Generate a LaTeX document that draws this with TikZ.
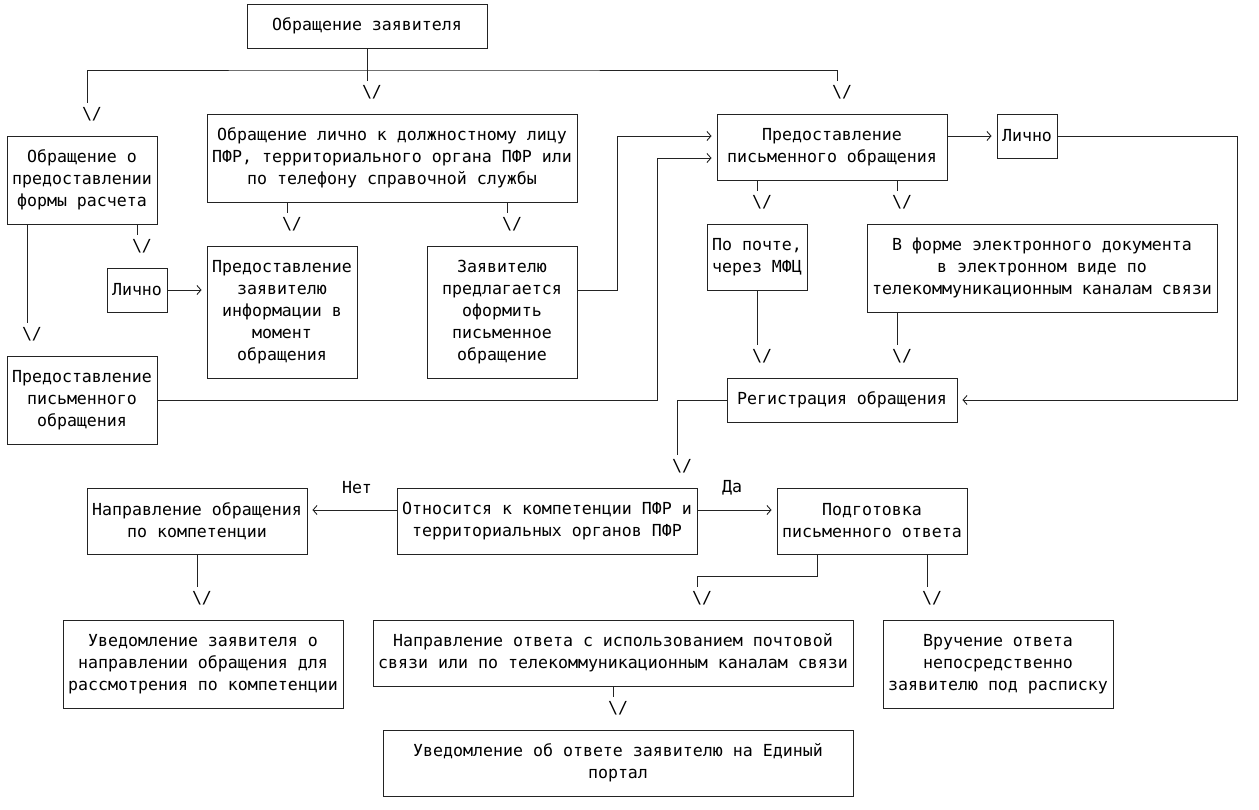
\documentclass[tikz,border=0pt]{standalone}
\usepackage{fontspec}
\setmonofont{DejaVu Sans Mono}
\usetikzlibrary{arrows.meta,positioning,calc}
\definecolor{flowline}{RGB}{35,35,35}
\newcommand{\flowfont}{\ttfamily\fontsize{16.6pt}{22pt}\selectfont}
% "\/" drawn as text, centred on its backslash
\newcommand{\downtip}{\phantom{/}\textbackslash/}

\begin{document}
\begin{tikzpicture}[x=1pt,y=-1pt,
box/.style={draw=flowline, line width=0.9pt, inner sep=0pt, align=center, font=\flowfont},
vmark/.style={inner sep=0pt, minimum height=22pt, font=\flowfont},
lbl/.style={inner sep=0pt, font=\flowfont},
link/.style={draw=flowline, line width=0.9pt},
arrow/.style={link, -{Straight Barb[length=4pt,width=9pt]}, shorten >=5pt}
]
\useasboundingbox (0,0) rectangle (1259,809);

\node[box, minimum width=240pt, minimum height=44pt] (appeal) at (367,26) {Обращение заявителя};

\node[box, minimum width=150pt, minimum height=88pt] (formreq) at (82,180)
{Обращение о\\предоставлении\\формы расчета};
\node[box, minimum width=370pt, minimum height=88pt] (personal) at (392,158)
{Обращение лично к должностному лицу\\ПФР, территориального органа ПФР или\\по телефону справочной службы};
\node[box, minimum width=230pt, minimum height=66pt] (written) at (832,147)
{Предоставление\\письменного обращения};
\node[box, minimum width=60pt, minimum height=44pt] (inpersonR) at (1027,136) {Лично};

\node[box, minimum width=60pt, minimum height=44pt] (inpersonL) at (137,290) {Лично};
\node[box, minimum width=150pt, minimum height=132pt] (info) at (282,312)
{Предоставление\\заявителю\\информации в\\момент\\обращения};
\node[box, minimum width=150pt, minimum height=132pt] (offer) at (502,312)
{Заявителю\\предлагается\\оформить\\письменное\\обращение};
\node[box, minimum width=150pt, minimum height=88pt] (writtenL) at (82,400)
{Предоставление\\письменного\\обращения};

\node[box, minimum width=100pt, minimum height=66pt] (post) at (757,257)
{По почте,\\через МФЦ};
\node[box, minimum width=350pt, minimum height=88pt] (edoc) at (1042,268)
{В форме электронного документа\\в электронном виде по\\телекоммуникационным каналам связи};
\node[box, minimum width=230pt, minimum height=44pt] (reg) at (842,400) {Регистрация обращения};

\node[box, minimum width=300pt, minimum height=66pt] (competence) at (547,521)
{Относится к компетенции ПФР и\\территориальных органов ПФР};
\node[box, minimum width=220pt, minimum height=66pt] (redirect) at (197,521)
{Направление обращения\\по компетенции};
\node[box, minimum width=190pt, minimum height=66pt] (prepare) at (872,521)
{Подготовка\\письменного ответа};
\node[lbl] (lblno) at (357,488) {Нет};
\node[lbl] (lblyes) at (732,488) {Да};

\node[box, minimum width=280pt, minimum height=88pt] (notifyR) at (203,664)
{Уведомление заявителя о\\направлении обращения для\\рассмотрения по компетенции};
\node[box, minimum width=480pt, minimum height=66pt] (send) at (613,653)
{Направление ответа с использованием почтовой\\связи или по телекоммуникационным каналам связи};
\node[box, minimum width=230pt, minimum height=88pt] (handover) at (998,664)
{Вручение ответа\\непосредственно\\заявителю под расписку};
\node[box, minimum width=470pt, minimum height=66pt] (portal) at (618,763)
{Уведомление об ответе заявителю на Единый\\портал};

% down marks
\node[vmark] (v0) at (87,114) {\downtip};
\node[vmark] (v1) at (367,92) {\downtip};
\node[vmark] (v2) at (837,92) {\downtip};
\node[vmark] (v3) at (287,224) {\downtip};
\node[vmark] (v4) at (507,224) {\downtip};
\node[vmark] (v5) at (137,246) {\downtip};
\node[vmark] (v6) at (27,334) {\downtip};
\node[vmark] (v7) at (757,202) {\downtip};
\node[vmark] (v8) at (897,202) {\downtip};
\node[vmark] (v9) at (757,356) {\downtip};
\node[vmark] (v10) at (897,356) {\downtip};
\node[vmark] (v11) at (677,466) {\downtip};
\node[vmark] (v12) at (197,598) {\downtip};
\node[vmark] (v13) at (697,598) {\downtip};
\node[vmark] (v14) at (927,598) {\downtip};
\node[vmark] (v15) at (613,708) {\downtip};

\coordinate (split) at (367,70);
\coordinate (ebend) at (617,136);
\coordinate (fbend) at (657,158);
\coordinate (rbend) at (1237,400);
\coordinate (kink) at (817,576);

\draw[link] (appeal.south) -- (v1.north);
\draw[link] (v0.north) |- (split) -| (v2.north);

\draw[link] (formreq.south -| v5.north) -- (v5.north);
\draw[link] (formreq.south -| v6.north) -- (v6.north);
\draw[link] (personal.south -| v3.north) -- (v3.north);
\draw[link] (personal.south -| v4.north) -- (v4.north);
\draw[link] (written.south -| v7.north) -- (v7.north);
\draw[link] (written.south -| v8.north) -- (v8.north);
\draw[link] (post.south -| v9.north) -- (v9.north);
\draw[link] (edoc.south -| v10.north) -- (v10.north);
\draw[link] (reg.west) -| (v11.north);
\draw[link] (redirect.south -| v12.north) -- (v12.north);
\draw[link] (prepare.south -| kink) -- (kink) -| (v13.north);
\draw[link] (prepare.south -| v14.north) -- (v14.north);
\draw[link] (send.south -| v15.north) -- (v15.north);

\draw[arrow] (inpersonL.east) -- (inpersonL.east -| info.west);
\draw[arrow] ([yshift=22pt]offer.east) -| (ebend) -- ([yshift=11pt]written.west);
\draw[arrow] (writtenL.east) -| (fbend) -- ([yshift=-11pt]written.west);
\draw[arrow] (written.east |- inpersonR) -- (inpersonR.west);
\draw[arrow] (inpersonR.east) -| (rbend) -- (reg.east);

\draw[arrow] ([yshift=11pt]competence.west) -- ([yshift=11pt]redirect.east);
\draw[arrow] ([yshift=11pt]competence.east) -- ([yshift=11pt]prepare.west);

\end{tikzpicture}
\end{document}
